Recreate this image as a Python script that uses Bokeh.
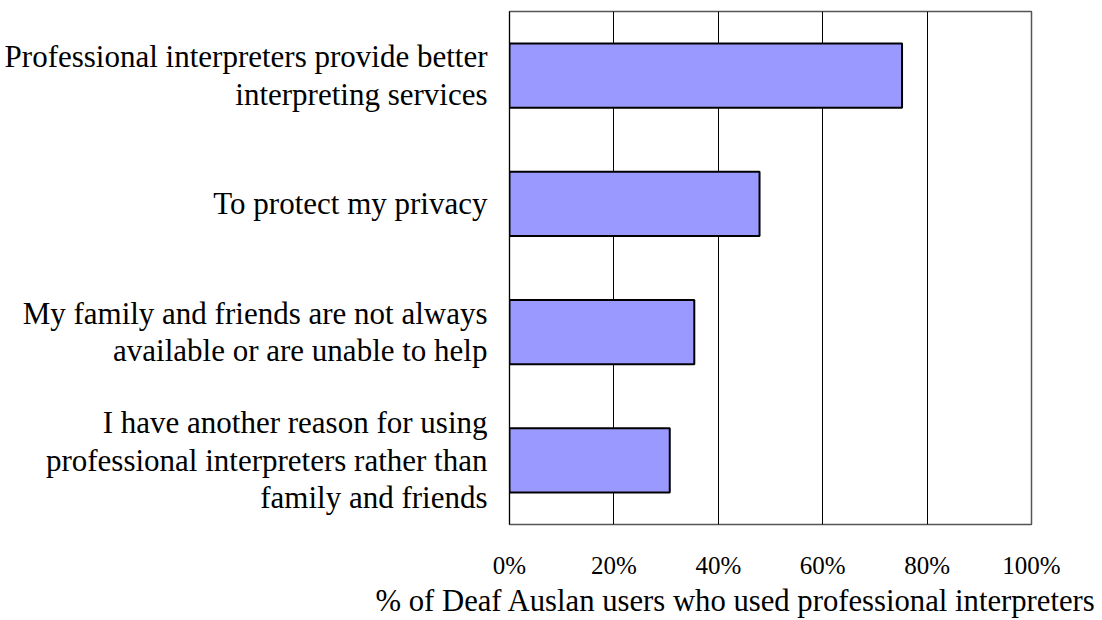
from bokeh.plotting import figure
from bokeh.models import Range1d, FactorRange, FixedTicker, Title
from bokeh.embed import file_html
from bokeh.resources import INLINE

categories = [
    "Professional interpreters provide better\ninterpreting services",
    "To protect my privacy",
    "My family and friends are not always\navailable or are unable to help",
    "I have another reason for using\nprofessional interpreters rather than\nfamily and friends",
]
values = [75.2, 47.9, 35.4, 30.7]
tick_values = [0, 20, 40, 60, 80, 100]
tick_labels = ["0%", "20%", "40%", "60%", "80%", "100%"]
axis_title = "% of Deaf Auslan users who used professional interpreters"

FONT = "Liberation Serif"
W, H = 1102, 620
FL, FR, FT, FB = 509, 71, 11, 96

p = figure(width=W, height=H, output_backend="svg", toolbar_location=None,
           x_range=Range1d(0, 100),
           y_range=FactorRange(factors=list(reversed(categories)), range_padding=0),
           min_border_left=FL, min_border_right=FR, min_border_top=FT, min_border_bottom=FB)

p.hbar(y=categories, right=values, left=0, height=0.5, fill_color="#9999FF",
       line_color="black", line_width=2)

p.outline_line_color = "#555555"
p.outline_line_width = 1.5
p.ygrid.visible = False

p.xgrid.ticker = FixedTicker(ticks=tick_values)
p.xgrid.grid_line_color = "black"
p.xgrid.grid_line_width = 1
p.xgrid.grid_line_alpha = 1

xa = p.xaxis[0]
xa.ticker = FixedTicker(ticks=tick_values)
xa.major_label_overrides = {t: l for t, l in zip(tick_values, tick_labels)}
xa.axis_line_color = None
xa.major_tick_line_color = None
xa.minor_tick_line_color = None
xa.major_tick_out = 0
xa.major_tick_in = 0
xa.major_label_standoff = 27
xa.major_label_text_font = FONT
xa.major_label_text_font_size = "25px"
xa.major_label_text_color = "black"

ya = p.yaxis[0]
ya.axis_line_color = "black"
ya.major_tick_line_color = None
ya.minor_tick_line_color = None
ya.major_tick_out = 0
ya.major_tick_in = 0
ya.major_label_standoff = 22
ya.major_label_text_font = FONT
ya.major_label_text_font_size = "31px"
ya.major_label_text_color = "black"
ya.major_label_text_line_height = 1.07
ya.major_label_text_align = "center"

p.add_layout(Title(text=axis_title, align="left", offset=-134, standoff=0,
                   text_font=FONT, text_font_size="30.7px", text_font_style="normal",
                   text_color="black"), "below")

open("out.html", "w").write(file_html(p, INLINE))
